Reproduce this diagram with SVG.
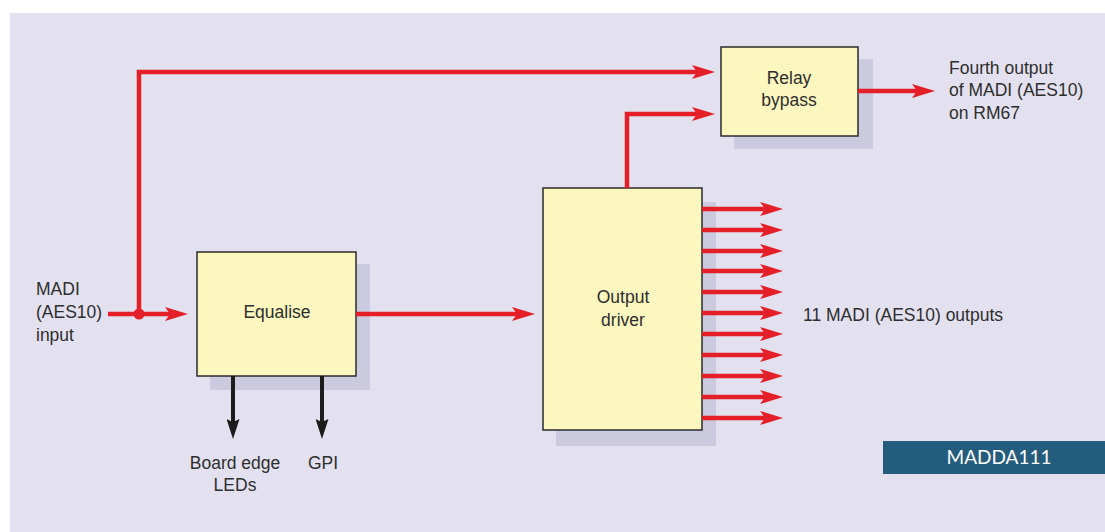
<svg xmlns="http://www.w3.org/2000/svg" width="1105" height="532" viewBox="0 0 1105 532">
<defs>
<style>
.box{fill:#fcf6bf;stroke:#2b2b2b;stroke-width:1.5}
.shadow{fill:#cbcadf}
.red{fill:none;stroke:#e41f28;stroke-width:4.5;stroke-linejoin:miter}
.blk{fill:none;stroke:#1c1c1c;stroke-width:4}
text{font-family:"Liberation Sans",Arial,sans-serif;font-size:17.5px;fill:#2e2e2e}
.c{text-anchor:middle}
.tag{font-family:Lato,"Open Sans",sans-serif;font-size:19px;fill:#ffffff;text-anchor:middle}
</style>
<marker id="ra" markerUnits="userSpaceOnUse" viewBox="0 0 23 14" refX="5" refY="7" markerWidth="23" markerHeight="14" orient="auto">
<path d="M0,0 L23,7 L0,14 L5,7 Z" fill="#e41f28"/>
</marker>
<marker id="ba" markerUnits="userSpaceOnUse" viewBox="0 0 20 13" refX="3" refY="6.5" markerWidth="20" markerHeight="13" orient="auto">
<path d="M0,0 L20,6.5 L0,13 L3,6.5 Z" fill="#1c1c1c"/>
</marker>
</defs>
<rect x="0" y="0" width="1105" height="532" fill="#ffffff"/>
<rect x="10" y="13" width="1095" height="519" fill="#e3e1ef"/>

<g id="relay">
<rect class="shadow" x="734" y="59" width="139" height="90"/>
<rect class="box" x="721" y="47" width="137" height="89"/>
<text class="c" x="789" y="84">Relay</text>
<text class="c" x="789" y="106">bypass</text>
</g>
<g id="equalise">
<rect class="shadow" x="210" y="264" width="160" height="126"/>
<rect class="box" x="197" y="252" width="159" height="124"/>
<text class="c" x="277" y="318">Equalise</text>
</g>
<g id="driver">
<rect class="shadow" x="556" y="202" width="160" height="244"/>
<rect class="box" x="543" y="188" width="159" height="242"/>
<text class="c" x="623" y="303">Output</text>
<text class="c" x="623" y="326">driver</text>
</g>

<g id="connectors">
<path class="red" d="M139,314 V72 H697" marker-end="url(#ra)"/>
<path class="red" d="M108,314 H170" marker-end="url(#ra)"/>
<circle cx="139" cy="314" r="5.5" fill="#e41f28"/>
<path class="red" d="M356,314 H517" marker-end="url(#ra)"/>
<path class="red" d="M627,188 V114 H697" marker-end="url(#ra)"/>
<path class="red" d="M858,91 H917" marker-end="url(#ra)"/>
<path class="red" d="M702,209 H765" marker-end="url(#ra)"/>
<path class="red" d="M702,230 H765" marker-end="url(#ra)"/>
<path class="red" d="M702,251 H765" marker-end="url(#ra)"/>
<path class="red" d="M702,271 H765" marker-end="url(#ra)"/>
<path class="red" d="M702,292 H765" marker-end="url(#ra)"/>
<path class="red" d="M702,313 H765" marker-end="url(#ra)"/>
<path class="red" d="M702,334 H765" marker-end="url(#ra)"/>
<path class="red" d="M702,355 H765" marker-end="url(#ra)"/>
<path class="red" d="M702,376 H765" marker-end="url(#ra)"/>
<path class="red" d="M702,397 H765" marker-end="url(#ra)"/>
<path class="red" d="M702,418 H765" marker-end="url(#ra)"/>
<path class="blk" d="M233,376 V422" marker-end="url(#ba)"/>
<path class="blk" d="M322,376 V422" marker-end="url(#ba)"/>
</g>

<g id="labels">
<text x="36" y="295">MADI</text>
<text x="36" y="318">(AES10)</text>
<text x="36" y="341">input</text>
<text x="949" y="74">Fourth output</text>
<text x="949" y="96">of MADI (AES10)</text>
<text x="949" y="119">on RM67</text>
<text x="803" y="321">11 MADI (AES10) outputs</text>
<text class="c" x="235" y="469">Board edge</text>
<text class="c" x="235" y="491">LEDs</text>
<text class="c" x="323" y="469">GPI</text>
</g>
<g id="figtag">
<rect x="883" y="441" width="222" height="33" fill="#245c7e"/>
<text class="tag" x="999" y="464">MADDA111</text>
</g>
</svg>
